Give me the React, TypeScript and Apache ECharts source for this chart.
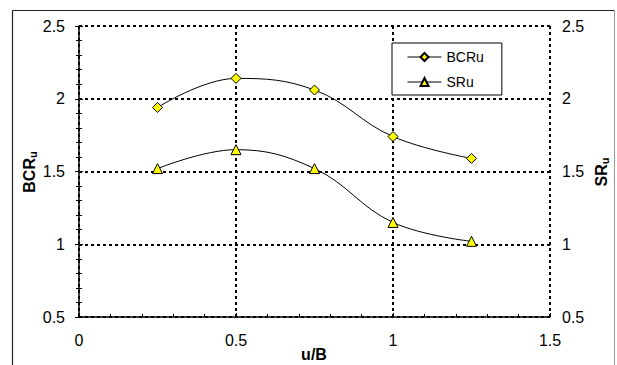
import React, { useEffect, useRef } from "react";
import * as echarts from "echarts";

const xValues = [0.25, 0.5, 0.75, 1.0, 1.25];
const bcru = [1.94, 2.14, 2.06, 1.74, 1.59];
const sru = [1.52, 1.65, 1.52, 1.15, 1.02];
const seriesNames = ["BCRu", "SRu"];

export default function App() {
  const ref = useRef<HTMLDivElement>(null);
  useEffect(() => {
    if (!ref.current) return;
    const chart = echarts.init(ref.current, null, { renderer: "svg" });
    const font = "Liberation Sans, Arial, sans-serif";
    const dotted = { color: "#000", width: 2, type: [3, 3] as any };
    const yCommon = {
      type: "value",
      min: 0.5,
      max: 2.5,
      interval: 0.5,
      axisTick: { show: true, inside: true, length: 4, lineStyle: { color: "#000" } },
      minorTick: { show: true, splitNumber: 5, length: 3, lineStyle: { color: "#000" } },
      axisLabel: {
        color: "#000",
        fontSize: 16,
        fontFamily: font,
        formatter: (v: number) => String(v),
      },
    };
    const richTitle = {
      m: { fontSize: 16, fontWeight: "bold", fontFamily: font, fill: "#000", lineHeight: 18 },
      s: { fontSize: 11, fontWeight: "bold", fontFamily: font, fill: "#000", lineHeight: 18, verticalAlign: "bottom", padding: [7, 0, 0, 0] },
    };
    chart.setOption({
      animation: false,
      backgroundColor: "#fff",
      grid: { left: 79, right: 67, top: 26, bottom: 48, containLabel: false },
      legend: {
        left: 392,
        top: 43,
        orient: "vertical",
        backgroundColor: "#fff",
        borderColor: "#000",
        borderWidth: 1,
        borderRadius: 0,
        padding: [7, 18, 6, 15],
        itemGap: 11,
        itemWidth: 34,
        itemHeight: 10,
        lineStyle: { width: 1, color: "#000" },
        textStyle: { color: "#000", fontSize: 14, fontFamily: font },
        data: seriesNames,
      },
      xAxis: {
        type: "value",
        min: 0,
        max: 1.5,
        interval: 0.5,
        axisLine: { show: true, onZero: false, lineStyle: { color: "#000", width: 1.5 } },
        axisTick: { show: true, inside: true, length: 4, lineStyle: { color: "#000" } },
        minorTick: { show: true, splitNumber: 5, length: 3, lineStyle: { color: "#000" } },
        splitLine: { show: true, lineStyle: dotted },
        axisLabel: {
          color: "#000",
          fontSize: 16,
          fontFamily: font,
          margin: 15,
          formatter: (v: number) => String(v),
        },
      },
      yAxis: [
        {
          ...yCommon,
          position: "left",
          axisLine: { show: true, onZero: false, lineStyle: { color: "#000", width: 1.5 } },
          splitLine: { show: true, lineStyle: dotted },
          axisLabel: { ...yCommon.axisLabel, margin: 14 },
        },
        {
          ...yCommon,
          position: "right",
          axisLine: { show: false },
          splitLine: { show: false },
          axisLabel: { ...yCommon.axisLabel, margin: 12 },
        },
      ],
      series: [
        {
          name: seriesNames[0],
          type: "line",
          yAxisIndex: 0,
          smooth: 0.4,
          symbol: "diamond",
          symbolSize: 10,
          data: xValues.map((x, i) => [x, bcru[i]]),
          lineStyle: { color: "#000", width: 1 },
          itemStyle: { color: "#ffff00", borderColor: "#000", borderWidth: 1 },
          z: 5,
        },
        {
          name: seriesNames[1],
          type: "line",
          yAxisIndex: 1,
          smooth: 0.4,
          symbol: "triangle",
          symbolSize: 10,
          data: xValues.map((x, i) => [x, sru[i]]),
          lineStyle: { color: "#000", width: 1 },
          itemStyle: { color: "#ffff00", borderColor: "#000", borderWidth: 1 },
          z: 5,
        },
      ],
      graphic: [
        {
          type: "line",
          shape: { x1: 12.5, y1: 10.5, x2: 614.5, y2: 10.5 },
          style: { stroke: "#222", lineWidth: 1 },
          silent: true,
        },
        {
          type: "line",
          shape: { x1: 12.5, y1: 10.5, x2: 12.5, y2: 365 },
          style: { stroke: "#222", lineWidth: 1.2 },
          silent: true,
        },
        {
          type: "line",
          shape: { x1: 614.5, y1: 10.5, x2: 614.5, y2: 365 },
          style: { stroke: "#999", lineWidth: 1 },
          silent: true,
        },
        {
          type: "text",
          x: 29,
          y: 172,
          rotation: Math.PI / 2,
          style: {
            text: "{m|BCR}{s|u}",
            align: "center",
            verticalAlign: "middle",
            fill: "#000",
            rich: richTitle,
          },
        },
        {
          type: "text",
          x: 601,
          y: 172,
          rotation: Math.PI / 2,
          style: {
            text: "{m|SR}{s|u}",
            align: "center",
            verticalAlign: "middle",
            fill: "#000",
            rich: richTitle,
          },
        },
        {
          type: "text",
          x: 314,
          y: 354,
          style: {
            text: "u/B",
            align: "center",
            verticalAlign: "middle",
            fontSize: 16,
            fontWeight: "bold",
            fontFamily: font,
            fill: "#000",
          },
        },
      ],
    });
    return () => chart.dispose();
  }, []);
  return (
    <div
      ref={ref}
      style={{ position: "fixed", left: 0, top: 0, width: 617, height: 365 }}
    />
  );
}
